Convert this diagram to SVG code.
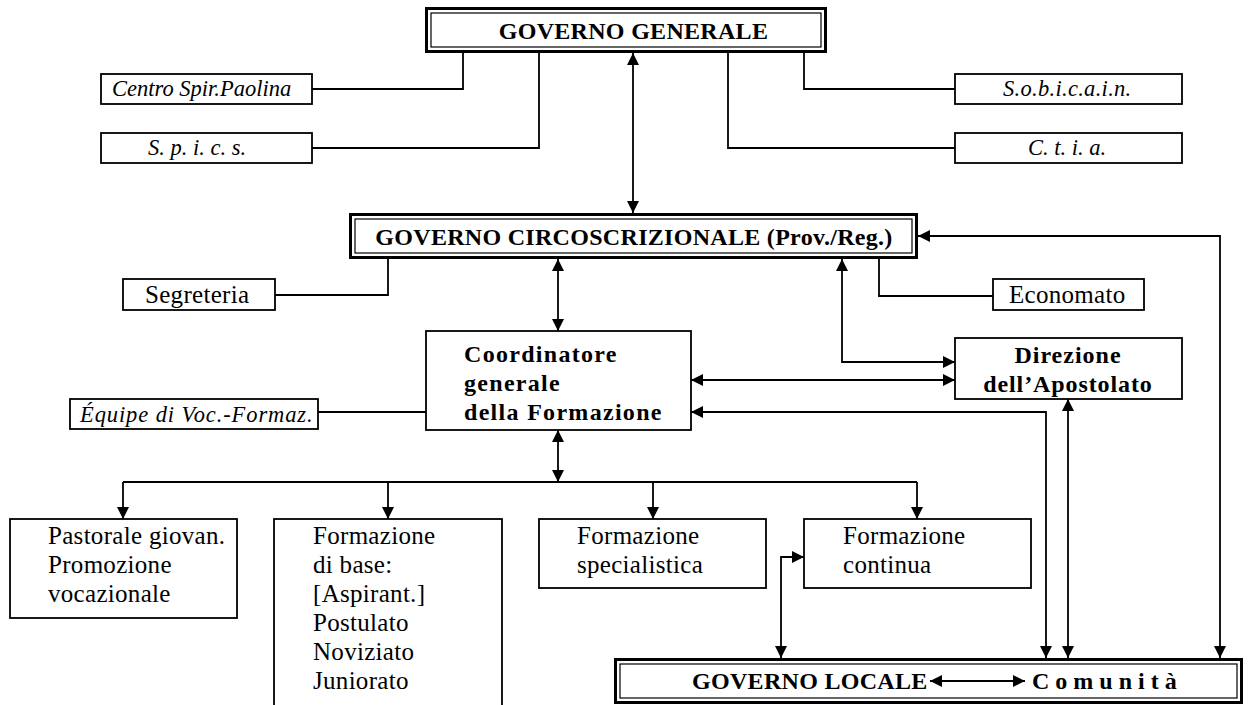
<svg xmlns="http://www.w3.org/2000/svg" width="1248" height="705" viewBox="0 0 1248 705">
<style>
.box{fill:#fff;stroke:#000;stroke-width:1.8}
.outer{fill:#fff;stroke:#000;stroke-width:3}
.inner{fill:none;stroke:#000;stroke-width:1.2}
.c{fill:none;stroke:#000;stroke-width:1.8}
.t{font-family:"Liberation Serif","Times New Roman",serif;font-size:25px;fill:#000;letter-spacing:0.3px}
.b{font-family:"Liberation Serif","Times New Roman",serif;font-size:24px;font-weight:bold;fill:#000;letter-spacing:0.3px}
.bw{letter-spacing:1.3px}
.i{font-family:"Liberation Serif","Times New Roman",serif;font-size:22.5px;font-style:italic;fill:#000}
</style>
<defs>
<marker id="a" markerUnits="userSpaceOnUse" markerWidth="12" markerHeight="12" refX="12" refY="6" orient="auto-start-reverse"><path d="M0,0 L12,6 L0,12 z" fill="#000"/></marker>
</defs>
<g id="connectors">
<path class="c" d="M463,53 V89 H312"/>
<path class="c" d="M539,53 V148 H312"/>
<path class="c" d="M728,53 V148 H955"/>
<path class="c" d="M804,53 V89 H955"/>
<path class="c" d="M633,53 V213" marker-start="url(#a)" marker-end="url(#a)"/>
<path class="c" d="M388,259 V295 H275"/>
<path class="c" d="M879,259 V296 H993"/>
<path class="c" d="M558,259 V331" marker-start="url(#a)" marker-end="url(#a)"/>
<path class="c" d="M842,259 V362 H955" marker-start="url(#a)" marker-end="url(#a)"/>
<path class="c" d="M691,380 H955" marker-start="url(#a)" marker-end="url(#a)"/>
<path class="c" d="M691,412 H1046 V658" marker-start="url(#a)" marker-end="url(#a)"/>
<path class="c" d="M1068,399 V658" marker-start="url(#a)" marker-end="url(#a)"/>
<path class="c" d="M918,236 H1220 V658" marker-start="url(#a)" marker-end="url(#a)"/>
<path class="c" d="M426,412 H318"/>
<path class="c" d="M558,430 V482" marker-start="url(#a)" marker-end="url(#a)"/>
<path class="c" d="M123,482 H917"/>
<path class="c" d="M123,482 V519" marker-end="url(#a)"/>
<path class="c" d="M388,482 V519" marker-end="url(#a)"/>
<path class="c" d="M653,482 V519" marker-end="url(#a)"/>
<path class="c" d="M917,482 V519" marker-end="url(#a)"/>
<path class="c" d="M804,557 H781 V658" marker-start="url(#a)" marker-end="url(#a)"/>
</g>
<g id="governo-generale">
<rect class="outer" x="426.5" y="8.5" width="399" height="43"/>
<rect class="inner" x="431" y="13" width="390" height="34"/>
<text class="b" x="633.5" y="39" text-anchor="middle">GOVERNO GENERALE</text>
</g>
<g id="centro-spir">
<rect class="box" x="101" y="74" width="211" height="30"/>
<text class="i" x="112" y="96">Centro Spir.Paolina</text>
</g>
<g id="spics">
<rect class="box" x="101" y="133" width="211" height="30"/>
<text class="i" x="148" y="155">S. p. i. c. s.</text>
</g>
<g id="sobicain">
<rect class="box" x="955" y="74" width="227" height="30"/>
<text class="i" x="1003" y="96" style="letter-spacing:0.3px">S.o.b.i.c.a.i.n.</text>
</g>
<g id="ctia">
<rect class="box" x="955" y="133" width="227" height="30"/>
<text class="i" x="1028" y="155">C. t. i. a.</text>
</g>
<g id="governo-circoscrizionale">
<rect class="outer" x="350.5" y="214.5" width="566" height="43"/>
<rect class="inner" x="355" y="219" width="557" height="34"/>
<text class="b" x="634" y="245" text-anchor="middle">GOVERNO CIRCOSCRIZIONALE (Prov./Reg.)</text>
</g>
<g id="segreteria">
<rect class="box" x="123" y="279" width="152" height="31"/>
<text class="t" x="145" y="303">Segreteria</text>
</g>
<g id="economato">
<rect class="box" x="993" y="279" width="151" height="31"/>
<text class="t" x="1009" y="303">Economato</text>
</g>
<g id="coordinatore">
<rect class="box" x="426" y="331" width="265" height="99"/>
<text class="b bw" x="464" y="362">Coordinatore</text>
<text class="b bw" x="464" y="391">generale</text>
<text class="b bw" x="464" y="420">della Formazione</text>
</g>
<g id="direzione">
<rect class="box" x="955" y="338" width="227" height="61"/>
<text class="b" x="1068" y="363" text-anchor="middle" style="letter-spacing:1px">Direzione</text>
<text class="b" x="1068" y="392" text-anchor="middle" style="letter-spacing:0.9px">dell’Apostolato</text>
</g>
<g id="equipe">
<rect class="box" x="70" y="399" width="248" height="30"/>
<text class="i" x="80" y="422" style="letter-spacing:0.9px">Équipe di Voc.-Formaz.</text>
</g>
<g id="pastorale">
<rect class="box" x="10" y="519" width="227" height="99"/>
<text class="t" x="48" y="544">Pastorale giovan.</text>
<text class="t" x="48" y="573">Promozione</text>
<text class="t" x="48" y="602">vocazionale</text>
</g>
<g id="formazione-base">
<rect class="box" x="274" y="519" width="228" height="200"/>
<text class="t" x="313" y="544">Formazione</text>
<text class="t" x="313" y="573">di base:</text>
<text class="t" x="313" y="602">[Aspirant.]</text>
<text class="t" x="313" y="631">Postulato</text>
<text class="t" x="313" y="660">Noviziato</text>
<text class="t" x="313" y="689">Juniorato</text>
</g>
<g id="formazione-specialistica">
<rect class="box" x="539" y="519" width="227" height="69"/>
<text class="t" x="577" y="544">Formazione</text>
<text class="t" x="577" y="573">specialistica</text>
</g>
<g id="formazione-continua">
<rect class="box" x="804" y="519" width="227" height="69"/>
<text class="t" x="843" y="544">Formazione</text>
<text class="t" x="843" y="573">continua</text>
</g>
<g id="governo-locale">
<rect class="outer" x="615.5" y="659.5" width="626" height="43"/>
<rect class="inner" x="620" y="664" width="617" height="34"/>
<text class="b" x="692" y="689">GOVERNO LOCALE</text>
<path class="c" d="M930,681 H1025" marker-start="url(#a)" marker-end="url(#a)"/>
<text class="b" x="1032" y="689" style="letter-spacing:6px">Comunità</text>
</g>
</svg>
